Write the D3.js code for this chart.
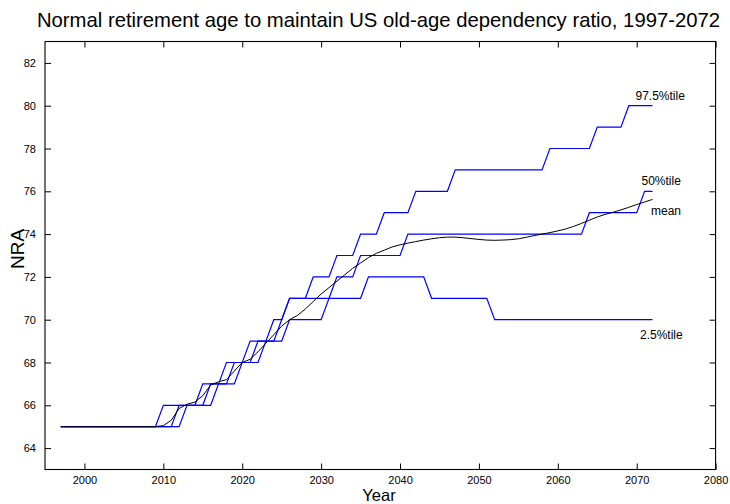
<!DOCTYPE html>
<html><head><meta charset="utf-8">
<script src="https://cdn.jsdelivr.net/npm/d3@7/dist/d3.min.js"></script>
<style>
body{margin:0;background:#fff}
svg{display:block}
text{font-family:"Liberation Sans",Arial,Helvetica,sans-serif;fill:#000}
</style>
</head><body>
<svg id="chart" width="730" height="504"></svg>
<script>
// ---- data ----
const years = [1997,1998,1999,2000,2001,2002,2003,2004,2005,2006,2007,2008,2009,2010,2011,2012,2013,2014,2015,2016,2017,2018,2019,2020,2021,2022,2023,2024,2025,2026,2027,2028,2029,2030,2031,2032,2033,2034,2035,2036,2037,2038,2039,2040,2041,2042,2043,2044,2045,2046,2047,2048,2049,2050,2051,2052,2053,2054,2055,2056,2057,2058,2059,2060,2061,2062,2063,2064,2065,2066,2067,2068,2069,2070,2071,2072];
const p975 = [65,65,65,65,65,65,65,65,65,65,65,65,65,66,66,66,66,66,67,67,67,68,68,68,69,69,69,70,70,71,71,71,72,72,72,73,73,73,74,74,74,75,75,75,75,76,76,76,76,76,77,77,77,77,77,77,77,77,77,77,77,77,78,78,78,78,78,78,79,79,79,79,80,80,80,80];
const p50  = [65,65,65,65,65,65,65,65,65,65,65,65,65,65,65,66,66,66,66,67,67,67,68,68,68,69,69,69,70,71,71,71,71,71,71,72,72,72,73,73,73,73,73,73,74,74,74,74,74,74,74,74,74,74,74,74,74,74,74,74,74,74,74,74,74,74,74,75,75,75,75,75,75,75,76,76];
const p025 = [65,65,65,65,65,65,65,65,65,65,65,65,65,65,65,65,66,66,66,66,67,67,67,68,68,68,69,69,69,70,70,70,70,70,71,71,71,71,71,72,72,72,72,72,72,72,72,71,71,71,71,71,71,71,71,70,70,70,70,70,70,70,70,70,70,70,70,70,70,70,70,70,70,70,70,70];
const meanNRA = [65,65,65,65,65,65,65,65,65,65,65,65,65,65.05,65.3,65.85,66.05,66.15,66.45,66.95,67.1,67.2,67.6,68.0,68.15,68.5,68.9,69.3,69.7,70.0,70.2,70.5,70.85,71.2,71.5,71.8,72.1,72.4,72.65,72.9,73.1,73.25,73.4,73.5,73.58,73.65,73.72,73.78,73.83,73.86,73.86,73.83,73.79,73.75,73.72,73.71,73.72,73.74,73.78,73.85,73.93,74.0,74.07,74.15,74.24,74.36,74.5,74.65,74.8,74.92,75.02,75.13,75.25,75.38,75.5,75.62];
const xTicks = [2000,2010,2020,2030,2040,2050,2060,2070,2080];
const yTicks = [64,66,68,70,72,74,76,78,80,82];
const seriesLabels = ["97.5%tile","50%tile","mean","2.5%tile"];
const titleText = "Normal retirement age to maintain US old-age dependency ratio, 1997-2072";

// ---- layout ----
const svg = d3.select("#chart");
const L = 45, R = 715.6, T = 41.5, B = 469.5;
const x = d3.scaleLinear().domain([1995, 2080]).range([L, R]);
const y = d3.scaleLinear().domain([63, 83]).range([B, T]);

// axes with inward ticks
const fs = 11;
const gB = svg.append("g").attr("transform", `translate(0,${B})`)
  .call(d3.axisBottom(x).tickValues(xTicks).tickFormat(d3.format("d")).tickSize(-6).tickPadding(7).tickSizeOuter(0));
const gT = svg.append("g").attr("transform", `translate(0,${T})`)
  .call(d3.axisTop(x).tickValues(xTicks).tickFormat("").tickSize(-6).tickSizeOuter(0));
const gL = svg.append("g").attr("transform", `translate(${L},0)`)
  .call(d3.axisLeft(y).tickValues(yTicks).tickSize(-6).tickPadding(9).tickSizeOuter(0));
const gR = svg.append("g").attr("transform", `translate(${R},0)`)
  .call(d3.axisRight(y).tickValues(yTicks).tickFormat("").tickSize(-6).tickSizeOuter(0));
[gB,gT,gL,gR].forEach(g => {
  g.select(".domain").remove();
  g.selectAll("line").attr("stroke", "#000").attr("stroke-width", 1);
  g.selectAll("text").attr("font-size", fs).attr("font-family", '"Liberation Sans",Arial,sans-serif').attr("fill","#000");
});
svg.append("rect").attr("x", L).attr("y", T).attr("width", R - L).attr("height", B - T)
  .attr("fill", "none").attr("stroke", "#000").attr("stroke-width", 1.1);

// lines
const line = d3.line().x((d, i) => x(years[i])).y(d => y(d));
[p975, p50, p025].forEach(s => {
  svg.append("path").datum(s).attr("d", line).attr("fill", "none")
    .attr("stroke", "#0000ff").attr("stroke-width", 1.2);
});
svg.append("path").datum(meanNRA).attr("d", line).attr("fill", "none")
  .attr("stroke", "#000").attr("stroke-width", 1);

// series labels
const last = years.length - 1;
const lx = x(years[last]);
const labelPos = [
  [lx - 17, y(p975[last]) - 6],
  [lx - 11, y(p50[last]) - 6],
  [lx - 1.5, y(meanNRA[last]) + 16],
  [lx - 12.5, y(p025[last]) + 19.5]
];
seriesLabels.forEach((t, i) => {
  svg.append("text").attr("x", labelPos[i][0]).attr("y", labelPos[i][1])
    .attr("font-size", 12).text(t);
});

// titles
svg.append("text").attr("x", 378.5).attr("y", 27).attr("text-anchor", "middle")
  .attr("font-size", 20.3).text(titleText);
svg.append("text").attr("x", 379).attr("y", 500.5).attr("text-anchor", "middle")
  .attr("font-size", 16.5).text("Year");
svg.append("text").attr("transform", `translate(24,249) rotate(-90)`)
  .attr("text-anchor", "middle").attr("font-size", 19).text("NRA");
</script>
</body></html>
